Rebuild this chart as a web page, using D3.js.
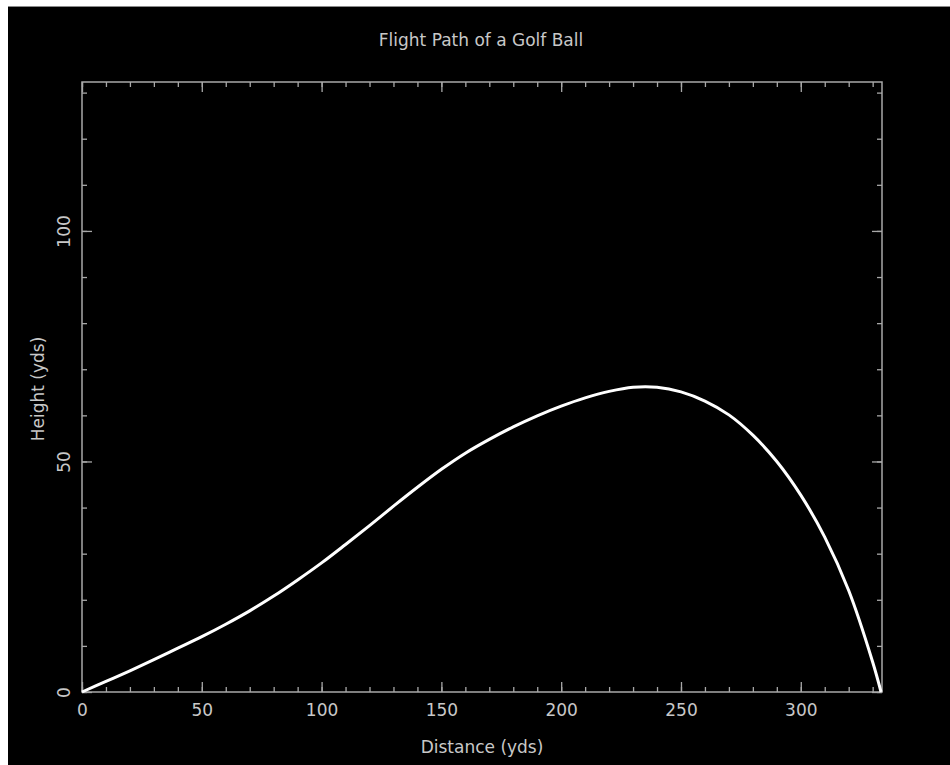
<!DOCTYPE html>
<html>
<head>
<meta charset="utf-8">
<script src="https://cdn.jsdelivr.net/npm/d3@7"></script>
<style>
  body { margin: 0; background: #fff; }
  text { font-family: "DejaVu Sans", sans-serif; fill: #c8c8c8; }
</style>
</head>
<body>
<div class="plot"></div>
<script>
// golf ball flight
var distance = [0, 10, 20, 30, 40, 50, 60, 70, 80, 90, 100, 110, 120, 130, 140, 150, 160, 170,
  180, 190, 200, 210, 220, 230, 240, 250, 260, 270, 280, 290, 300, 310, 320, 330, 333.5];
var height = [0, 2.3, 4.6, 7.0, 9.5, 12.0, 14.7, 17.6, 20.8, 24.3, 28.0, 32.0, 36.1, 40.3, 44.4, 48.3, 51.8, 54.8,
  57.5, 59.9, 62.0, 63.8, 65.2, 66.1, 66.1, 65.1, 63.1, 60.1, 55.7, 50.0, 42.7, 33.6, 22.0, 6.5, 0];

var xMajor = [0, 50, 100, 150, 200, 250, 300];
var xMinor = d3.range(0, 331, 10);
var yMajor = [0, 50, 100];
var yMinor = d3.range(0, 131, 10);

var W = 950, H = 765;
var margin = {top: 82, right: 68, bottom: 73, left: 82},
  width = W - margin.left - margin.right,
  plotH = H - margin.top - margin.bottom;

var svg = d3.select(".plot")
    .append("svg")
    .attr("width", W)
    .attr("height", H);

// black canvas with grey top edge
svg.append("rect")
    .attr("x", 8).attr("y", 6)
    .attr("width", W - 8).attr("height", H - 6)
    .attr("fill", "#000");
svg.append("line")
    .attr("x1", 8).attr("x2", W)
    .attr("y1", 6.5).attr("y2", 6.5)
    .attr("stroke", "#8a8a8a");

var g = svg.append("g")
    .attr("transform", "translate(" + margin.left + "," + margin.top + ")");

var x = d3.scaleLinear().domain([0, 333.9]).range([0, width]);
var y = d3.scaleLinear().domain([0, 132.3]).range([plotH, 0]);

var axisColor = "#a8a8a8";

function styleAxis(sel) {
  sel.select(".domain").remove();
  sel.selectAll("line").attr("stroke", axisColor).attr("stroke-width", 1.3);
  sel.selectAll("text").style("font-size", "17px").attr("fill", "#c8c8c8");
}

// bottom
g.append("g").attr("transform", "translate(0," + plotH + ")")
    .call(d3.axisBottom(x).tickValues(xMinor).tickSize(-5).tickFormat(""))
    .call(styleAxis);
var bx = g.append("g").attr("transform", "translate(0," + plotH + ")")
    .call(d3.axisBottom(x).tickValues(xMajor).tickSize(-10))
    .call(styleAxis);
bx.selectAll("text").attr("y", 24).attr("dy", null);

// top
g.append("g")
    .call(d3.axisTop(x).tickValues(xMinor).tickSize(-5).tickFormat(""))
    .call(styleAxis);
g.append("g")
    .call(d3.axisTop(x).tickValues(xMajor).tickSize(-10).tickFormat(""))
    .call(styleAxis);

// left
g.append("g")
    .call(d3.axisLeft(y).tickValues(yMinor).tickSize(-5).tickFormat(""))
    .call(styleAxis);
var ly = g.append("g")
    .call(d3.axisLeft(y).tickValues(yMajor).tickSize(-10))
    .call(styleAxis);
ly.selectAll("text")
    .attr("x", 0).attr("dy", null)
    .attr("text-anchor", "middle")
    .attr("transform", "translate(-12,0) rotate(-90)");

// right
g.append("g").attr("transform", "translate(" + width + ",0)")
    .call(d3.axisRight(y).tickValues(yMinor).tickSize(-5).tickFormat(""))
    .call(styleAxis);
g.append("g").attr("transform", "translate(" + width + ",0)")
    .call(d3.axisRight(y).tickValues(yMajor).tickSize(-10).tickFormat(""))
    .call(styleAxis);

// frame
g.append("rect")
    .attr("width", width).attr("height", plotH)
    .attr("fill", "none")
    .attr("stroke", axisColor)
    .attr("stroke-width", 1.5);

// the flight path
var pts = distance.map(function(d, i) { return [d, height[i]]; });
g.append("path")
    .datum(pts)
    .attr("fill", "none")
    .attr("stroke", "#fff")
    .attr("stroke-width", 3)
    .attr("d", d3.line()
        .x(function(d) { return x(d[0]); })
        .y(function(d) { return y(d[1]); })
        .curve(d3.curveCatmullRom.alpha(0.5)));

// titles
svg.append("text")
    .attr("x", 481).attr("y", 46)
    .attr("text-anchor", "middle")
    .style("font-size", "17px")
    .text("Flight Path of a Golf Ball");

svg.append("text")
    .attr("x", 482).attr("y", 753)
    .attr("text-anchor", "middle")
    .style("font-size", "17px")
    .text("Distance (yds)");

svg.append("text")
    .attr("transform", "translate(44,389) rotate(-90)")
    .attr("text-anchor", "middle")
    .style("font-size", "17px")
    .text("Height (yds)");
</script>
</body>
</html>
